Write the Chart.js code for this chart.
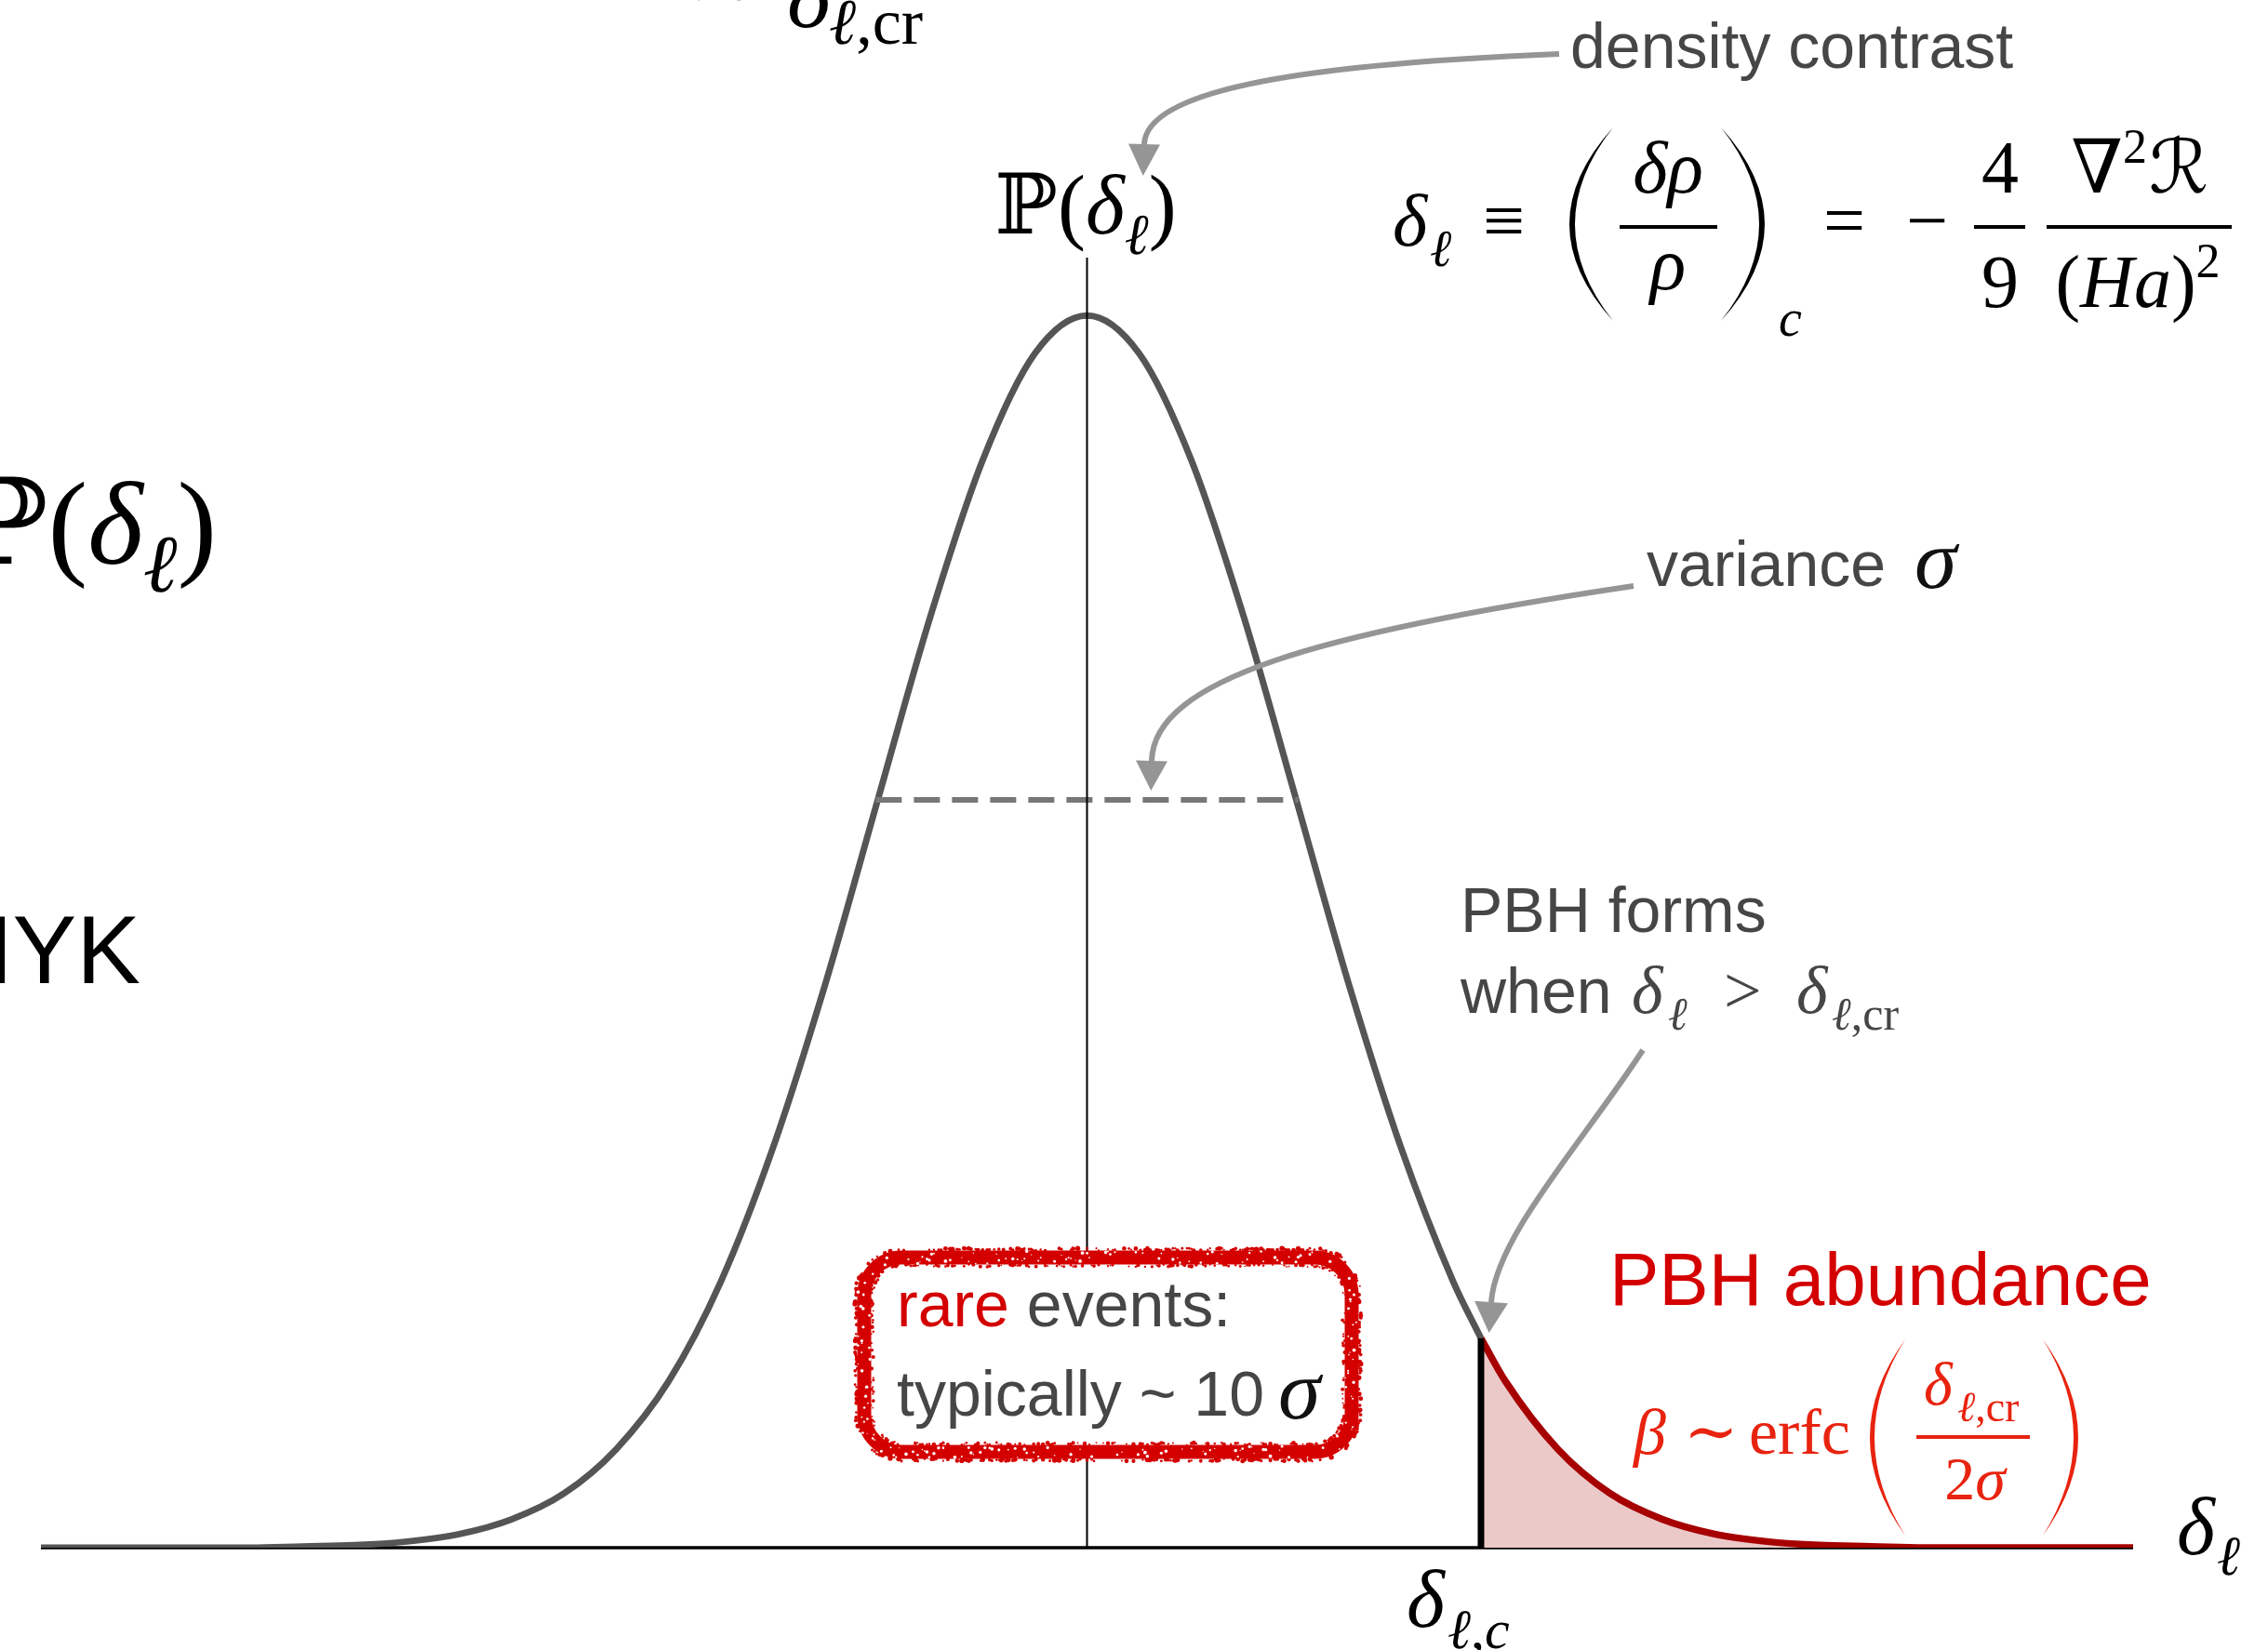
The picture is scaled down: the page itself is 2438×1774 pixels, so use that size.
<!DOCTYPE html>
<html>
<head>
<meta charset="utf-8">
<title>PBH formation from the density contrast PDF</title>
<script src="https://cdn.jsdelivr.net/npm/chart.js@4.4.1/dist/chart.umd.min.js"></script>
<style>
  html, body { margin: 0; padding: 0; background: #fff; }
  canvas { display: block; }
</style>
</head>
<body>
<canvas id="pdf-chart" width="2438" height="1774"></canvas>
<script>
// density contrast in units of sigma, and the probability (peak = 1)
const sigmaSteps = [-5, -4.75, -4.5, -4.25, -4, -3.75, -3.5, -3.25, -3, -2.75, -2.5, -2.25, -2, -1.75, -1.5, -1.25, -1, -0.75, -0.5, -0.25,
  0, 0.25, 0.5, 0.75, 1, 1.25, 1.5, 1.75, 2, 2.25, 2.5, 2.75, 3, 3.25, 3.5, 3.75, 4, 4.25, 4.5, 4.75, 5];
const density = [0, 0, 0, 0, 0, 0.001, 0.002, 0.005, 0.011, 0.023, 0.044, 0.080, 0.135, 0.216, 0.325, 0.458, 0.607, 0.755, 0.882, 0.969,
  1, 0.969, 0.882, 0.755, 0.607, 0.458, 0.325, 0.216, 0.135, 0.080, 0.044, 0.023, 0.011, 0.005, 0.002, 0.001, 0, 0, 0, 0, 0];

// threshold delta_c (in sigma) and the probability there
const critical = [1.883, 0.170];
// the dashed "variance" bar: from, to, height
const varianceBar = [-1.01, 1.01, 0.607];

const points = sigmaSteps.map((x, i) => ({ x: x, y: density[i] }));
const bodyPts = points.filter(p => p.x < critical[0]).concat([{ x: critical[0], y: critical[1] }]);
const tailPts = [{ x: critical[0], y: critical[1] }].concat(points.filter(p => p.x > critical[0]));

const SANS = '"Liberation Sans", Arial, Helvetica, sans-serif';
const SERIF = '"Liberation Serif", "Times New Roman", "DejaVu Serif", "DejaVu Sans", serif';
const GREY = '#464646';
const RED = '#d40000';
const ORANGE_RED = '#e8230f';

function sans(size) { return size + 'px ' + SANS; }
function serif(size, style) { return (style ? style + ' ' : '') + size + 'px ' + SERIF; }

// draw a list of text pieces one after another, returns end x
function run(ctx, x, y, parts) {
  parts.forEach(p => {
    ctx.font = p.f;
    if (p.c) ctx.fillStyle = p.c;
    ctx.fillText(p.t, x + (p.dx || 0), y + (p.dy || 0));
    x += ctx.measureText(p.t).width + (p.dx || 0);
  });
  return x;
}
function runWidth(ctx, parts) {
  let w = 0;
  parts.forEach(p => { ctx.font = p.f; w += ctx.measureText(p.t).width + (p.dx || 0); });
  return w;
}
function runCentered(ctx, cx, y, parts) { return run(ctx, cx - runWidth(ctx, parts) / 2, y, parts); }
function runRight(ctx, rx, y, parts) { return run(ctx, rx - runWidth(ctx, parts), y, parts); }

function fracBar(ctx, x0, x1, y) { ctx.fillRect(x0, y - 2, x1 - x0, 4); }

// tall delimiter as a tapered crescent
function paren(ctx, side, x, top, bottom, w, thick) {
  const mid = (top + bottom) / 2;
  ctx.beginPath();
  if (side === '(') {
    ctx.moveTo(x + w, top);
    ctx.quadraticCurveTo(x - w, mid, x + w, bottom);
    ctx.quadraticCurveTo(x - w + 2 * thick, mid, x + w, top);
  } else {
    ctx.moveTo(x, top);
    ctx.quadraticCurveTo(x + 2 * w, mid, x, bottom);
    ctx.quadraticCurveTo(x + 2 * w - 2 * thick, mid, x, top);
  }
  ctx.fill();
}

function arrow(ctx, p0, p1, p2, p3, headLen, headW) {
  ctx.strokeStyle = '#959595';
  ctx.fillStyle = '#959595';
  ctx.lineWidth = 6;
  ctx.lineCap = 'butt';
  ctx.setLineDash([]);
  ctx.beginPath();
  ctx.moveTo(p0[0], p0[1]);
  ctx.bezierCurveTo(p1[0], p1[1], p2[0], p2[1], p3[0], p3[1]);
  ctx.stroke();
  const dx = p3[0] - p2[0], dy = p3[1] - p2[1], len = Math.hypot(dx, dy);
  const ux = dx / len, uy = dy / len;
  ctx.beginPath();
  ctx.moveTo(p3[0] + ux * headLen, p3[1] + uy * headLen);
  ctx.lineTo(p3[0] - uy * headW / 2, p3[1] + ux * headW / 2);
  ctx.lineTo(p3[0] + uy * headW / 2, p3[1] - ux * headW / 2);
  ctx.closePath();
  ctx.fill();
}

// points along a rounded rectangle with outward normals
function ringPoints(x, y, w, h, r, step) {
  const pts = [];
  const edge = (x0, y0, x1, y1, nx, ny) => {
    const n = Math.max(1, Math.round(Math.hypot(x1 - x0, y1 - y0) / step));
    for (let i = 0; i < n; i++) {
      const t = i / n;
      pts.push({ x: x0 + (x1 - x0) * t, y: y0 + (y1 - y0) * t, nx: nx, ny: ny });
    }
  };
  const arc = (cx, cy, a0) => {
    const n = Math.max(1, Math.round(r * Math.PI / 2 / step));
    for (let i = 0; i < n; i++) {
      const a = a0 + (Math.PI / 2) * i / n;
      pts.push({ x: cx + r * Math.cos(a), y: cy + r * Math.sin(a), nx: Math.cos(a), ny: Math.sin(a) });
    }
  };
  edge(x + r, y, x + w - r, y, 0, -1); arc(x + w - r, y + r, -Math.PI / 2);
  edge(x + w, y + r, x + w, y + h - r, 1, 0); arc(x + w - r, y + h - r, 0);
  edge(x + w - r, y + h, x + r, y + h, 0, 1); arc(x + r, y + h - r, Math.PI / 2);
  edge(x, y + h - r, x, y + r, -1, 0); arc(x + r, y + r, Math.PI);
  return pts;
}
const grain = n => { const s = Math.sin(n * 127.1 + 311.7) * 43758.5453; return s - Math.floor(s); };

// stamped-looking red frame round the "rare events" note
function stampBox(ctx, x, y, w, h, r, sw) {
  ctx.save();
  ctx.beginPath();
  ctx.roundRect(x, y, w, h, r);
  ctx.fillStyle = '#fff';
  ctx.fill();
  ctx.strokeStyle = RED;
  ctx.lineWidth = sw;
  ctx.stroke();
  const pts = ringPoints(x, y, w, h, r, 2.5);
  pts.forEach((p, i) => {
    if (grain(i) < 0.55) {
      const off = sw / 2 + grain(i + 0.31) * 2.5;
      ctx.fillStyle = RED;
      ctx.beginPath();
      ctx.arc(p.x + p.nx * off, p.y + p.ny * off, 1 + grain(i + 0.71) * 1.8, 0, Math.PI * 2);
      ctx.fill();
    }
    if (grain(i + 0.13) < 0.45) {
      const off = -(sw / 2 + grain(i + 0.47) * 2.5);
      ctx.fillStyle = RED;
      ctx.beginPath();
      ctx.arc(p.x + p.nx * off, p.y + p.ny * off, 0.8 + grain(i + 0.83) * 1.5, 0, Math.PI * 2);
      ctx.fill();
    }
    if (grain(i + 0.57) < 0.3) {
      const off = (grain(i + 0.91) - 0.5) * sw * 0.9;
      ctx.fillStyle = '#fff';
      ctx.beginPath();
      ctx.arc(p.x + p.nx * off, p.y + p.ny * off, 0.6 + grain(i + 0.23) * 1.3, 0, Math.PI * 2);
      ctx.fill();
    }
  });
  ctx.restore();
}

// x axis goes under the curves, the P(delta) axis on top of them
const axesPlugin = {
  id: 'axes',
  beforeDatasetsDraw(chart) {
    const { ctx, scales: { x, y } } = chart;
    ctx.save();
    ctx.strokeStyle = '#000';
    ctx.lineWidth = 3.5;
    ctx.beginPath();
    ctx.moveTo(x.getPixelForValue(-5), y.getPixelForValue(0));
    ctx.lineTo(x.getPixelForValue(5), y.getPixelForValue(0));
    ctx.stroke();
    ctx.restore();
  },
  afterDatasetsDraw(chart) {
    const { ctx, scales: { x, y } } = chart;
    ctx.save();
    ctx.strokeStyle = '#000';
    ctx.lineWidth = 2;
    ctx.beginPath();
    ctx.moveTo(x.getPixelForValue(0), y.top);
    ctx.lineTo(x.getPixelForValue(0), y.getPixelForValue(0));
    ctx.stroke();
    ctx.restore();
  }
};

const notesPlugin = {
  id: 'notes',
  afterDraw(chart) {
    const ctx = chart.ctx;
    ctx.save();
    ctx.textAlign = 'left';
    ctx.textBaseline = 'alphabetic';

    // leftovers of neighbouring panels at the edges
    ctx.fillStyle = '#000';
    ctx.font = serif(100);
    ctx.textAlign = 'right';
    ctx.fillText('\u223C', 824, 24);
    ctx.textAlign = 'left';
    run(ctx, 846, 29, [{ t: 'δ', f: serif(100, 'italic') }]);
    run(ctx, 891, 47, [{ t: 'ℓ', f: serif(70, 'italic') }, { t: ',cr', f: serif(70) }]);
    runRight(ctx, 233, 606, [
      { t: 'ℙ', f: serif(128) }, { t: '(', f: serif(128) }, { t: 'δ', f: serif(128, 'italic') },
      { t: 'ℓ', f: serif(88, 'italic'), dy: 30 }, { t: ')', f: serif(128) }
    ]);
    ctx.font = sans(103);
    ctx.textAlign = 'right';
    ctx.fillText('MYK', 151, 1057);
    ctx.textAlign = 'left';

    // axis labels
    runCentered(ctx, 1167, 251, [
      { t: 'ℙ', f: serif(90) }, { t: '(', f: serif(90) }, { t: 'δ', f: serif(90, 'italic') },
      { t: 'ℓ', f: serif(62, 'italic'), dy: 22 }, { t: ')', f: serif(90) }
    ]);
    run(ctx, 2340, 1671, [{ t: 'δ', f: serif(88, 'italic') }]);
    run(ctx, 2383, 1693, [{ t: 'ℓ', f: serif(60, 'italic') }]);
    run(ctx, 1512, 1749, [{ t: 'δ', f: serif(88, 'italic') }]);
    run(ctx, 1556, 1772, [{ t: 'ℓ', f: serif(60, 'italic') }, { t: ',', f: serif(60) }, { t: 'c', f: serif(60, 'italic') }]);

    // definition of the density contrast
    ctx.fillStyle = '#000';
    run(ctx, 1497, 264, [{ t: 'δ', f: serif(80, 'italic') }]);
    run(ctx, 1537, 286, [{ t: 'ℓ', f: serif(56, 'italic') }]);
    run(ctx, 1594, 264, [{ t: '≡', f: serif(80) }]);
    paren(ctx, '(', 1687, 137, 345, 47, 6);
    runCentered(ctx, 1793, 207, [{ t: 'δρ', f: serif(80, 'italic') }]);
    fracBar(ctx, 1741, 1846, 244);
    runCentered(ctx, 1793, 311, [{ t: 'ρ', f: serif(80, 'italic') }]);
    paren(ctx, ')', 1850, 137, 345, 47, 6);
    run(ctx, 1912, 361, [{ t: 'c', f: serif(56, 'italic') }]);
    run(ctx, 1960, 264, [{ t: '=', f: serif(80) }]);
    run(ctx, 2049, 264, [{ t: '−', f: serif(80) }]);
    runCentered(ctx, 2150, 207, [{ t: '4', f: serif(80) }]);
    fracBar(ctx, 2122, 2177, 244);
    runCentered(ctx, 2150, 330, [{ t: '9', f: serif(80) }]);
    runCentered(ctx, 2300, 207, [
      { t: '∇', f: serif(80) }, { t: '2', f: serif(52), dy: -32 }, { t: 'ℛ', f: serif(80, 'italic'), dx: 2 }
    ]);
    fracBar(ctx, 2200, 2399, 244);
    runCentered(ctx, 2298, 330, [
      { t: '(', f: serif(80) }, { t: 'Ha', f: serif(80, 'italic') }, { t: ')', f: serif(80) }, { t: '2', f: serif(52), dy: -32 }
    ]);

    // grey call-outs
    ctx.fillStyle = GREY;
    run(ctx, 1688, 73, [{ t: 'density contrast', f: sans(68) }]);
    run(ctx, 1770, 630, [{ t: 'variance', f: sans(68) }]);
    ctx.fillStyle = '#111';
    run(ctx, 2058, 632, [{ t: 'σ', f: serif(92, 'italic') }]);

    ctx.fillStyle = GREY;
    run(ctx, 1570, 1002, [{ t: 'PBH forms', f: sans(68) }]);
    run(ctx, 1570, 1089, [{ t: 'when', f: sans(68) }]);
    run(ctx, 1754, 1089, [{ t: 'δ', f: serif(72, 'italic') }]);
    run(ctx, 1793, 1107, [{ t: 'ℓ', f: serif(50, 'italic') }]);
    run(ctx, 1853, 1089, [{ t: '>', f: serif(72) }]);
    run(ctx, 1931, 1089, [{ t: 'δ', f: serif(72, 'italic') }]);
    run(ctx, 1969, 1107, [{ t: 'ℓ', f: serif(50, 'italic') }, { t: ',cr', f: serif(50) }]);

    arrow(ctx, [1676, 58], [1380, 70], [1232, 100], [1230, 155], 34, 34);
    arrow(ctx, [1756, 630], [1420, 680], [1240, 730], [1238, 818], 32, 34);
    arrow(ctx, [1766, 1129], [1700, 1230], [1608, 1330], [1603, 1400], 33, 36);

    // rare events note
    stampBox(ctx, 929, 1352, 524, 209, 40, 15);
    ctx.textAlign = 'left';
    run(ctx, 964, 1426, [{ t: 'rare', f: sans(68), c: RED }, { t: ' events:', f: sans(68), c: GREY }]);
    run(ctx, 964, 1522, [{ t: 'typically ~ 10', f: sans(68), c: GREY }]);
    run(ctx, 1374, 1525, [{ t: 'σ', f: serif(92, 'italic'), c: '#111' }]);

    // abundance
    run(ctx, 1730, 1403, [{ t: 'PBH abundance', f: sans(80), c: RED }]);
    ctx.fillStyle = ORANGE_RED;
    run(ctx, 1756, 1563, [{ t: 'β', f: serif(70, 'italic') }]);
    run(ctx, 1810, 1563, [{ t: '∼', f: serif(70) }]);
    run(ctx, 1880, 1563, [{ t: 'erfc', f: serif(70) }]);
    paren(ctx, '(', 2010, 1440, 1651, 38, 5);
    run(ctx, 2068, 1510, [{ t: 'δ', f: serif(66, 'italic') }]);
    run(ctx, 2104, 1528, [{ t: 'ℓ', f: serif(46, 'italic') }, { t: ',cr', f: serif(46) }]);
    fracBar(ctx, 2060, 2182, 1545);
    runCentered(ctx, 2123, 1612, [{ t: '2', f: serif(66) }, { t: 'σ', f: serif(66, 'italic') }]);
    paren(ctx, ')', 2196, 1440, 1651, 38, 5);

    ctx.restore();
  }
};

new Chart(document.getElementById('pdf-chart'), {
  type: 'line',
  data: {
    datasets: [
      {
        label: 'threshold',
        data: [{ x: critical[0], y: 0 }, { x: critical[0], y: critical[1] }],
        borderColor: '#000',
        borderWidth: 7,
        pointRadius: 0,
        fill: false
      },
      {
        label: 'variance',
        data: [{ x: varianceBar[0], y: varianceBar[2] }, { x: varianceBar[1], y: varianceBar[2] }],
        borderColor: '#777',
        borderWidth: 6,
        borderDash: [28, 13],
        pointRadius: 0,
        fill: false
      },
      {
        label: 'P(delta)',
        data: bodyPts,
        borderColor: '#555',
        borderWidth: 7,
        cubicInterpolationMode: 'monotone',
        pointRadius: 0,
        fill: false
      },
      {
        label: 'tail',
        data: tailPts,
        borderColor: '#a60000',
        borderWidth: 7.5,
        cubicInterpolationMode: 'monotone',
        pointRadius: 0,
        fill: 'origin',
        backgroundColor: '#ecc9c9'
      }
    ]
  },
  options: {
    responsive: false,
    animation: false,
    devicePixelRatio: 1,
    layout: { padding: { left: 44, right: 145, top: 277, bottom: 110 } },
    scales: {
      x: { type: 'linear', min: -5, max: 5, display: false },
      y: { min: 0, max: 1.047, display: false }
    },
    plugins: {
      legend: { display: false },
      tooltip: { enabled: false }
    }
  },
  plugins: [axesPlugin, notesPlugin]
});
</script>
</body>
</html>
